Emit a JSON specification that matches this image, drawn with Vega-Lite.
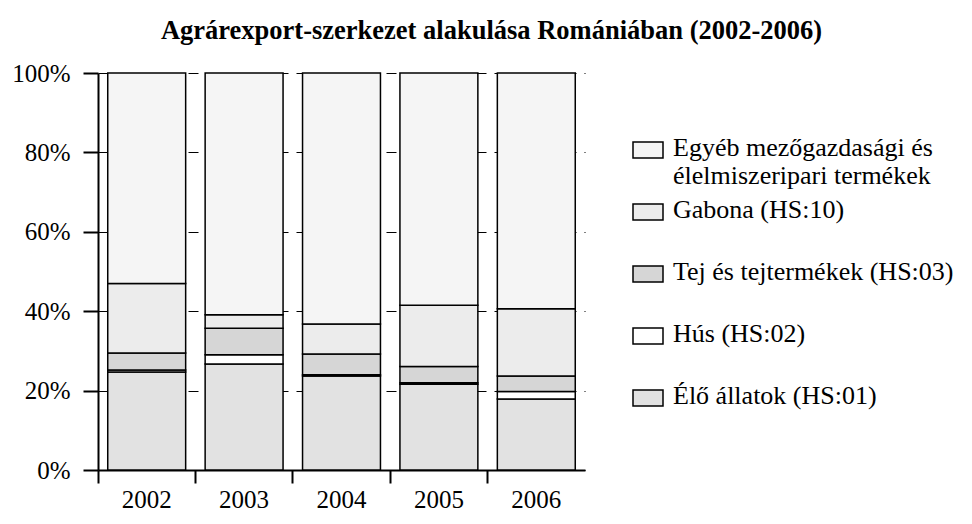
{
  "$schema": "https://vega.github.io/schema/vega-lite/v6.json",
  "autosize": {"type": "none"},
  "width": 487,
  "height": 397,
  "padding": {"left": 98, "top": 73, "right": 387, "bottom": 54},
  "background": "white",
  "title": {
    "text": "Agrárexport-szerkezet alakulása Romániában (2002-2006)",
    "anchor": "middle",
    "frame": "group",
    "dx": 150,
    "offset": 17,
    "font": "Liberation Serif",
    "fontSize": 26.5,
    "fontWeight": "bold",
    "color": "black"
  },
  "data": {
    "values": [
      {"ev": "2002", "kategoria": "Élő állatok (HS:01)", "sorrend": 1, "arany": 24.7},
      {"ev": "2002", "kategoria": "Hús (HS:02)", "sorrend": 2, "arany": 0.5},
      {"ev": "2002", "kategoria": "Tej és tejtermékek (HS:03)", "sorrend": 3, "arany": 4.3},
      {"ev": "2002", "kategoria": "Gabona (HS:10)", "sorrend": 4, "arany": 17.5},
      {"ev": "2002", "kategoria": "Egyéb mezőgazdasági és élelmiszeripari termékek", "sorrend": 5, "arany": 53.0},
      {"ev": "2003", "kategoria": "Élő állatok (HS:01)", "sorrend": 1, "arany": 26.7},
      {"ev": "2003", "kategoria": "Hús (HS:02)", "sorrend": 2, "arany": 2.3},
      {"ev": "2003", "kategoria": "Tej és tejtermékek (HS:03)", "sorrend": 3, "arany": 6.7},
      {"ev": "2003", "kategoria": "Gabona (HS:10)", "sorrend": 4, "arany": 3.4},
      {"ev": "2003", "kategoria": "Egyéb mezőgazdasági és élelmiszeripari termékek", "sorrend": 5, "arany": 60.9},
      {"ev": "2004", "kategoria": "Élő állatok (HS:01)", "sorrend": 1, "arany": 23.7},
      {"ev": "2004", "kategoria": "Hús (HS:02)", "sorrend": 2, "arany": 0.3},
      {"ev": "2004", "kategoria": "Tej és tejtermékek (HS:03)", "sorrend": 3, "arany": 5.2},
      {"ev": "2004", "kategoria": "Gabona (HS:10)", "sorrend": 4, "arany": 7.6},
      {"ev": "2004", "kategoria": "Egyéb mezőgazdasági és élelmiszeripari termékek", "sorrend": 5, "arany": 63.2},
      {"ev": "2005", "kategoria": "Élő állatok (HS:01)", "sorrend": 1, "arany": 21.6},
      {"ev": "2005", "kategoria": "Hús (HS:02)", "sorrend": 2, "arany": 0.4},
      {"ev": "2005", "kategoria": "Tej és tejtermékek (HS:03)", "sorrend": 3, "arany": 4.1},
      {"ev": "2005", "kategoria": "Gabona (HS:10)", "sorrend": 4, "arany": 15.4},
      {"ev": "2005", "kategoria": "Egyéb mezőgazdasági és élelmiszeripari termékek", "sorrend": 5, "arany": 58.5},
      {"ev": "2006", "kategoria": "Élő állatok (HS:01)", "sorrend": 1, "arany": 17.9},
      {"ev": "2006", "kategoria": "Hús (HS:02)", "sorrend": 2, "arany": 1.9},
      {"ev": "2006", "kategoria": "Tej és tejtermékek (HS:03)", "sorrend": 3, "arany": 3.9},
      {"ev": "2006", "kategoria": "Gabona (HS:10)", "sorrend": 4, "arany": 16.9},
      {"ev": "2006", "kategoria": "Egyéb mezőgazdasági és élelmiszeripari termékek", "sorrend": 5, "arany": 59.4}
    ]
  },
  "mark": {"type": "bar", "stroke": "black", "strokeWidth": 1.5},
  "encoding": {
    "x": {
      "field": "ev",
      "type": "nominal",
      "scale": {"paddingInner": 0.2, "paddingOuter": 0.1},
      "axis": {
        "title": null,
        "labelAngle": 0,
        "bandPosition": -0.125,
        "labelFont": "Liberation Serif",
        "labelFontSize": 25,
        "labelColor": "black",
        "labelPadding": 4,
        "tickSize": 13,
        "tickWidth": 2,
        "tickColor": "black",
        "domainColor": "black",
        "domainWidth": 2
      }
    },
    "y": {
      "field": "arany",
      "type": "quantitative",
      "stack": "normalize",
      "scale": {"domain": [0, 1], "nice": false},
      "axis": {
        "title": null,
        "values": [0, 0.2, 0.4, 0.6, 0.8, 1],
        "format": ".0%",
        "labelFont": "Liberation Serif",
        "labelFontSize": 25,
        "labelColor": "black",
        "labelPadding": 13,
        "tickSize": 15,
        "tickWidth": 2,
        "tickColor": "black",
        "domainColor": "black",
        "domainWidth": 2,
        "grid": true,
        "gridColor": "black",
        "gridWidth": 1,
        "gridDash": [10, 8],
        "gridOpacity": 1
      }
    },
    "color": {
      "field": "kategoria",
      "type": "nominal",
      "scale": {
        "domain": [
          "Egyéb mezőgazdasági és élelmiszeripari termékek",
          "Gabona (HS:10)",
          "Tej és tejtermékek (HS:03)",
          "Hús (HS:02)",
          "Élő állatok (HS:01)"
        ],
        "range": ["#f5f5f5", "#ececec", "#d6d6d6", "#ffffff", "#e2e2e2"]
      },
      "legend": {
        "title": null,
        "orient": "none",
        "legendX": 534,
        "legendY": 67,
        "direction": "vertical",
        "padding": 0,
        "gridAlign": "all",
        "rowPadding": 8,
        "symbolType": "M-1,-0.933H1V0.133H-1Z",
        "symbolSize": 900,
        "symbolStrokeColor": "black",
        "symbolStrokeWidth": 1.5,
        "symbolOpacity": 1,
        "labelFont": "Liberation Serif",
        "labelFontSize": 26,
        "labelColor": "black",
        "labelBaseline": "alphabetic",
        "labelOffset": 9,
        "labelLimit": 400,
        "labelExpr": "datum.label == 'Egyéb mezőgazdasági és élelmiszeripari termékek' ? ['Egyéb mezőgazdasági és', 'élelmiszeripari termékek'] : datum.label"
      }
    },
    "order": {"field": "sorrend", "type": "quantitative", "sort": "ascending"}
  },
  "config": {
    "view": {"stroke": null},
    "font": "Liberation Serif"
  }
}
